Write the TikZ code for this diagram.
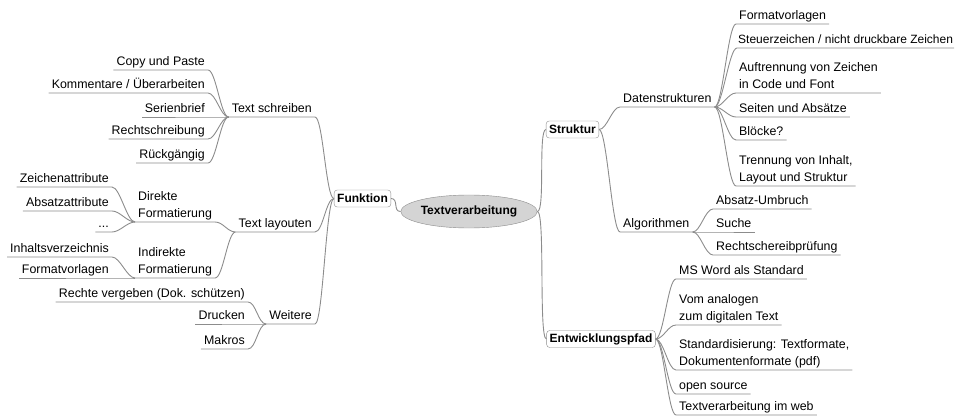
\documentclass[tikz,border=0pt]{standalone}
\usepackage{fontspec}
\setmainfont{Liberation Sans}
\usepackage{tikz}
\usetikzlibrary{shapes.geometric}
\definecolor{linegray}{HTML}{8C8C8C}
\definecolor{rootfill}{HTML}{D4D4D4}
\newcommand\mapfont{\fontsize{12.4}{17}\selectfont}
\newcommand\topicfont{\fontsize{12}{14}\selectfont\bfseries}

\begin{document}
\begin{tikzpicture}[x=1pt,y=-1pt,
  leaf/.style={inner xsep=3pt,inner ysep=1pt,text depth=3pt,font=\mapfont},
  leafl/.style={leaf,anchor=south east,align=right},
  leafr/.style={leaf,anchor=south west,align=left},
  topic/.style={draw=linegray,fill=white,rounded corners=3pt,font=\topicfont,
    inner xsep=3pt,inner ysep=0pt,minimum height=17pt},
  root/.style={ellipse,draw=linegray,fill=rootfill,font=\topicfont,
    minimum width=112pt,minimum height=33pt,inner sep=0pt},
  lnk/.style={draw=linegray,line width=0.9pt},
  tol/.style={out=180,in=0,distance=8pt},
  tor/.style={out=0,in=180,distance=8pt}]
  \useasboundingbox (0,0) rectangle (959,417);
  % centre and main topics
  \node[root] (tv) at (469,211.5) {Textverarbeitung};
  \node[topic] (fk) at (362.5,198.5) {Funktion};
  \node[topic] (st) at (572.5,129.5) {Struktur};
  \node[topic] (ew) at (601,339) {Entwicklungspfad};
  % Funktion
  \node[leafl] (ts) at (315,117) {Text schreiben};
  \node[leafl] (tl) at (315,232) {Text layouten};
  \node[leafl] (we) at (315,324) {Weitere};
  \node[leafl] (cp) at (208,70) {Copy und Paste};
  \node[leafl] (ko) at (208,93) {Kommentare / Überarbeiten};
  \node[leafl] (sb) at (208,117) {Serienbrief};
  \node[leafl] (rs) at (208,139) {Rechtschreibung};
  \node[leafl] (rg) at (208,163) {Rückgängig};
  \node[leafr] (df) at (135,222) {Direkte\\Formatierung};
  \node[leafr] (if) at (135,278) {Indirekte\\Formatierung};
  \node[leafl] (za) at (112,187) {Zeichenattribute};
  \node[leafl] (aa) at (112,211) {Absatzattribute};
  \node[leafl] (dt) at (112,232) {...};
  \node[leafl] (iv) at (112,257) {Inhaltsverzeichnis};
  \node[leafl] (fv) at (112,278) {Formatvorlagen};
  \node[leafl] (rv) at (248,302) {Rechte vergeben (Dok. schützen)};
  \node[leafl] (dr) at (248,324) {Drucken};
  \node[leafl] (mk) at (248,349) {Makros};
  % Struktur
  \node[leafr] (ds) at (620,107) {Datenstrukturen};
  \node[leafr] (al) at (620,232) {Algorithmen};
  \node[leafr] (fo) at (736,24) {Formatvorlagen};
  \node[leafr,inner xsep=1pt,font=\fontsize{12}{17}\selectfont] (sz) at (737,48)
    {Steuerzeichen / nicht druckbare Zeichen};
  \node[leafr] (az) at (736,93) {Auftrennung von Zeichen\\in Code und Font};
  \node[leafr] (sa) at (736,117) {Seiten und Absätze};
  \node[leafr] (bl) at (736,140) {Blöcke?};
  \node[leafr] (tr) at (736,186) {Trennung von Inhalt,\\Layout und Struktur};
  \node[leafr] (au) at (713,209) {Absatz-Umbruch};
  \node[leafr] (su) at (713,232) {Suche};
  \node[leafr] (rp) at (713,255) {Rechtschereibprüfung};
  % Entwicklungspfad
  \node[leafr] (ms) at (676,279) {MS Word als Standard};
  \node[leafr] (va) at (676,325) {Vom analogen\\zum digitalen Text};
  \node[leafr] (sd) at (676,370) {Standardisierung: Textformate,\\Dokumentenformate (pdf)};
  \node[leafr] (os) at (676,394) {open source};
  \node[leafr] (tw) at (676,415) {Textverarbeitung im web};
  % connectors
  \draw[lnk] (tv.west) to[tol] (fk.east);
  \foreach \n in {st,ew} \draw[lnk] (tv.east) to[tor] (\n.west);
  \foreach \n in {ts,tl,we} \draw[lnk] (fk.west) to[tol] (\n.south east) -- (\n.south west);
  \foreach \n in {cp,ko,sb,rs,rg} \draw[lnk] (ts.south west) to[tol] (\n.south east) -- (\n.south west);
  \foreach \n in {df,if} \draw[lnk] (tl.south west) to[tol] (\n.south east) -- (\n.south west);
  \foreach \n in {za,aa,dt} \draw[lnk] (df.south west) to[tol] (\n.south east) -- (\n.south west);
  \foreach \n in {iv,fv} \draw[lnk] (if.south west) to[tol] (\n.south east) -- (\n.south west);
  \foreach \n in {rv,dr,mk} \draw[lnk] (we.south west) to[tol] (\n.south east) -- (\n.south west);
  \foreach \n in {ds,al} \draw[lnk] (st.east) to[tor] (\n.south west) -- (\n.south east);
  \foreach \n in {fo,sz,az,sa,bl,tr} \draw[lnk] (ds.south east) to[tor] (\n.south west) -- (\n.south east);
  \foreach \n in {au,su,rp} \draw[lnk] (al.south east) to[tor] (\n.south west) -- (\n.south east);
  \foreach \n in {ms,va,sd,os,tw} \draw[lnk] (ew.east) to[tor] (\n.south west) -- (\n.south east);
\end{tikzpicture}
\end{document}
